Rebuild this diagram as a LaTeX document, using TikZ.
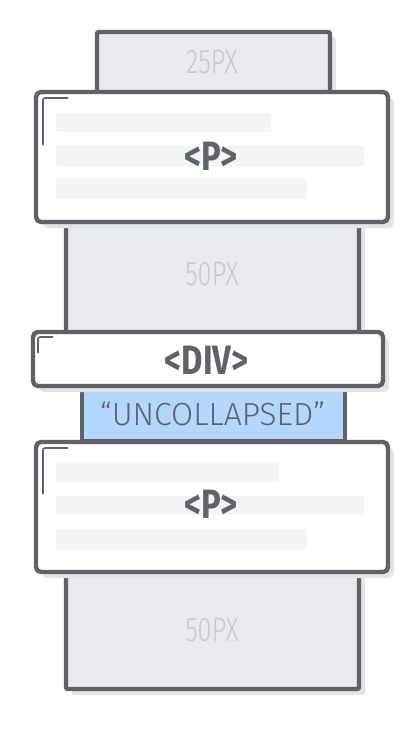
\documentclass[tikz,border=0pt]{standalone}
\usepackage{fontspec}
\setmainfont{Fira Sans}
\newfontfamily\narrowfont{Fira Sans}[FakeStretch=0.8]
\newfontfamily\narrowlight{Fira Sans Light}[FakeStretch=0.75]
\newfontfamily\lightfont{Fira Sans Light}
\usetikzlibrary{shadows}
\usepackage{xcolor}
\definecolor{edgegray}{HTML}{5F6368}
\definecolor{boxgray}{HTML}{E8EBEE}
\definecolor{labelgray}{HTML}{C6C9CD}
\definecolor{bargray}{HTML}{F4F5F7}
\definecolor{shadowgray}{HTML}{E4E4E4}
\definecolor{uncollapsedblue}{HTML}{B3D7FF}

\begin{document}
\begin{tikzpicture}[x=1pt, y=-1pt, every node/.style={inner sep=0pt, outer sep=0pt},
	margin/.style={draw=edgegray, line width=4.4pt, fill=boxgray, rounded corners=2pt,
		drop shadow={shadow xshift=6pt, shadow yshift=-6pt, fill=shadowgray, opacity=1}},
	element/.style={draw=edgegray, line width=4.4pt, fill=white, rounded corners=5pt,
		drop shadow={shadow xshift=6pt, shadow yshift=-6pt, fill=shadowgray, opacity=1}},
	content/.style={draw=edgegray, line width=4.4pt, fill=uncollapsedblue},
	pxlabel/.style={text=labelgray, font=\narrowlight\fontsize{34}{34}\selectfont},
	taglabel/.style={text=edgegray, font=\narrowfont\bfseries\fontsize{41}{41}\selectfont},
	contentlabel/.style={text=edgegray, font=\lightfont\fontsize{32}{32}\selectfont},
	textbar/.style={fill=bargray, rounded corners=1pt},
	cornermark/.style={draw=edgegray, line width=1.6pt, rounded corners=2pt}]

\useasboundingbox (0,0) rectangle (418,730);

% margins
\node[margin, minimum width=233pt, minimum height=88pt] (top margin) at (213.5,76) {};
\node[pxlabel] (top px) at (212,62) {25PX};
\node[margin, minimum width=293pt, minimum height=134pt] (upper margin) at (212.5,267) {};
\node[pxlabel] (upper px) at (212,274.5) {50PX};

% first paragraph
\node[element, minimum width=352pt, minimum height=130pt] (first p) at (212,157) {};
\fill[textbar] (56,113) rectangle (271,132);
\fill[textbar] (56,146) rectangle (364,166);
\fill[textbar] (56,179) rectangle (307,199);
\draw[cornermark] (68,98) -- (43,98) -- (43,145);
\node[taglabel] (first p tag) at (211,156) {<P>};

% div with its content
\node[content, minimum width=263pt, minimum height=61pt] (uncollapsed) at (213.5,410.5) {};
\node[contentlabel] (uncollapsed text) at (212.5,414) {“UNCOLLAPSED”};
\node[element, minimum width=350pt, minimum height=54pt] (div) at (208,359) {};
\draw[cornermark] (53,337) -- (38,337) -- (38,353);
\node[taglabel] (div tag) at (206.5,360) {<DIV>};

% second paragraph
\node[margin, minimum width=293pt, minimum height=129pt] (lower margin) at (212.5,624.5) {};
\node[pxlabel] (lower px) at (212,630.5) {50PX};
\node[element, minimum width=352pt, minimum height=130pt] (second p) at (212,507) {};
\fill[textbar] (56,462) rectangle (279,482);
\fill[textbar] (56,496) rectangle (364,515);
\fill[textbar] (56,529) rectangle (307,549);
\draw[cornermark] (68,448) -- (43,448) -- (43,494);
\node[taglabel] (second p tag) at (211,504.5) {<P>};

\end{tikzpicture}
\end{document}
